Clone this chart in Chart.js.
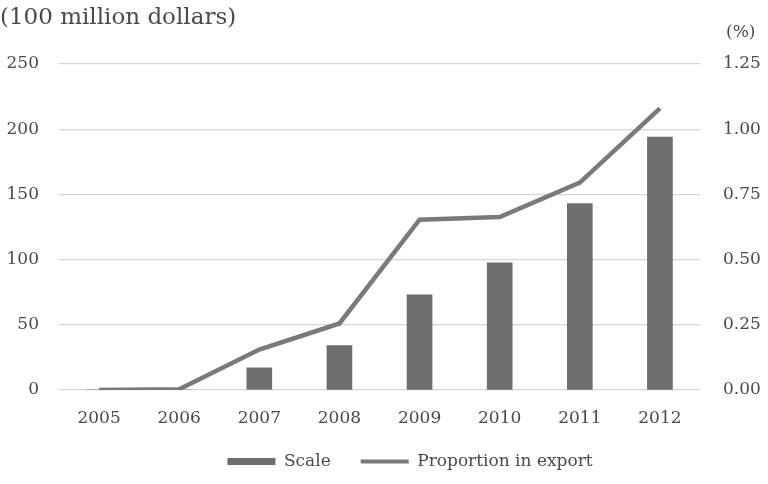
<!DOCTYPE html>
<html>
  <head>
    <meta charset="utf-8">
    <title>Scale and proportion in export</title>
    <script src="https://cdn.jsdelivr.net/npm/chart.js@4.4.1/dist/chart.umd.min.js"></script>
    <style>
      html, body { margin: 0; padding: 0; background: #fff; }
      #container { width: 768px; height: 484px; }
    </style>
  </head>

  <body>
    <div id="container">
      <canvas id="canvas"></canvas>
    </div>
    <script>
      // categories and series
      const years = ['2005', '2006', '2007', '2008', '2009', '2010', '2011', '2012'];
      const scaleValues = [0, 0, 17, 34, 73, 97.5, 143, 194]; // 100 million dollars
      const shareValues = [0, 0.003, 0.155, 0.255, 0.653, 0.663, 0.795, 1.08]; // %
      const leftUnit = '(100 million dollars)';
      const rightUnit = '(%)';

      const textColor = '#4a4a4a';
      const barColor = '#6e6e6e';
      const lineColor = '#7a7a7a';

      Chart.defaults.font.family = '"DejaVu Serif", serif';
      Chart.defaults.font.size = 17;
      Chart.defaults.color = textColor;

      // unit captions above both axes
      const unitLabels = {
        id: 'unitLabels',
        afterDraw(chart) {
          const ctx = chart.ctx;
          ctx.save();
          ctx.fillStyle = textColor;
          ctx.textBaseline = 'middle';
          ctx.textAlign = 'left';
          ctx.font = '23px "DejaVu Serif", serif';
          ctx.fillText(leftUnit, 0, 18);
          ctx.font = '17px "DejaVu Serif", serif';
          ctx.fillText(rightUnit, chart.scales.y1.left + 26, 33);
          ctx.restore();
        },
        afterUpdate(chart) {
          // legend sits a little right of centre in the original
          chart.legend.left += 26;
          chart.legend.right += 26;
        }
      };

      window.onload = () => {
        const ctx = document.getElementById('canvas').getContext('2d');
        window.myChart = new Chart(ctx, {
          data: {
            labels: years,
            datasets: [
              {
                type: 'bar',
                label: 'Scale',
                data: scaleValues,
                backgroundColor: barColor,
                barThickness: 25,
                yAxisID: 'y'
              },
              {
                type: 'line',
                label: 'Proportion in export',
                data: shareValues,
                borderColor: lineColor,
                backgroundColor: lineColor,
                borderWidth: 4.5,
                pointRadius: 0,
                tension: 0,
                yAxisID: 'y1'
              }
            ]
          },
          options: {
            responsive: true,
            maintainAspectRatio: false,
            animation: false,
            layout: {
              padding: { top: 64, left: 0, right: 0, bottom: 4 }
            },
            plugins: {
              tooltip: { enabled: false },
              legend: {
                position: 'bottom',
                labels: {
                  usePointStyle: true,
                  pointStyleWidth: 48,
                  boxHeight: 7,
                  padding: 30,
                  color: textColor,
                  generateLabels(chart) {
                    const items = Chart.defaults.plugins.legend.labels.generateLabels(chart);
                    items.forEach(item => {
                      const ds = chart.data.datasets[item.datasetIndex];
                      const isLine = ds.type === 'line';
                      item.pointStyle = isLine ? 'line' : 'rect';
                      item.fillStyle = isLine ? lineColor : barColor;
                      item.strokeStyle = isLine ? lineColor : barColor;
                      item.lineWidth = isLine ? 4 : 0;
                    });
                    return items;
                  }
                }
              }
            },
            scales: {
              x: {
                grid: { display: false },
                border: { display: false },
                ticks: { padding: 10, color: textColor },
                afterFit(scale) { scale.height = 33; }
              },
              y: {
                position: 'left',
                min: 0,
                max: 250,
                ticks: { stepSize: 50, padding: 20, color: textColor },
                grid: { color: '#d6d6d6', lineWidth: 1.3, drawTicks: false },
                border: { display: false },
                afterFit(scale) { scale.width = 59; }
              },
              y1: {
                position: 'right',
                min: 0,
                max: 1.25,
                ticks: {
                  stepSize: 0.25,
                  padding: 23,
                  color: textColor,
                  callback: v => v.toFixed(2)
                },
                grid: { display: false, drawTicks: false },
                border: { display: false },
                afterFit(scale) { scale.width = 68; }
              }
            }
          },
          plugins: [unitLabels]
        });
      };
    </script>
  </body>
</html>
